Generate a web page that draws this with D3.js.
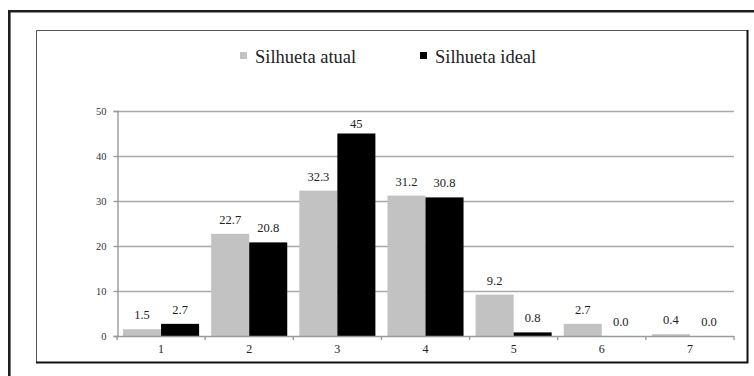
<!DOCTYPE html>
<html>
<head>
<meta charset="utf-8">
<script src="https://cdn.jsdelivr.net/npm/d3@7"></script>
<style>
  html, body { margin: 0; padding: 0; background: #fff; }
  svg { display: block; }
</style>
</head>
<body>
<script>
// Categories on the x axis (silhouette figure numbers)
const categories = ["1", "2", "3", "4", "5", "6", "7"];
// Series: percentage choosing each silhouette
const seriesNames = ["Silhueta atual", "Silhueta ideal"];
const atual = [1.5, 22.7, 32.3, 31.2, 9.2, 2.7, 0.4];
const ideal = [2.7, 20.8, 45, 30.8, 0.8, 0.0, 0.0];
// Printed value labels
const atualLabels = ["1.5", "22.7", "32.3", "31.2", "9.2", "2.7", "0.4"];
const idealLabels = ["2.7", "20.8", "45", "30.8", "0.8", "0.0", "0.0"];
// Y axis ticks
const yTicks = [0, 10, 20, 30, 40, 50];

const W = 754, H = 376;
const FONT = "'Liberation Serif', 'Times New Roman', 'DejaVu Serif', serif";
const colors = { "Silhueta atual": "#c2c2c2", "Silhueta ideal": "#000000" };

const svg = d3.select("body").append("svg")
  .attr("width", W).attr("height", H);

// Outer frame (extends past the window edge)
svg.append("path")
  .attr("d", "M9.3,380 V11.3 H760")
  .attr("fill", "none").attr("stroke", "#1e1e1e").attr("stroke-width", 2.6);

// Inner chart box: thin top/left, heavier right/bottom
svg.append("path")
  .attr("d", "M36.5,362 V30.5 H748")
  .attr("fill", "none").attr("stroke", "#555").attr("stroke-width", 1);
svg.append("path")
  .attr("d", "M747.5,30 V362.5 H36")
  .attr("fill", "none").attr("stroke", "#111").attr("stroke-width", 2);

const plot = { left: 117, right: 734, top: 111, bottom: 336 };

const x0 = d3.scaleBand()
  .domain(categories)
  .range([plot.left, plot.right])
  .paddingInner(0.137)
  .paddingOuter(0.0685);

const x1 = d3.scaleBand()
  .domain(seriesNames)
  .range([0, x0.bandwidth()])
  .padding(0);

const y = d3.scaleLinear()
  .domain([0, 50])
  .range([plot.bottom, plot.top]);

// Gridlines
svg.append("g")
  .selectAll("line")
  .data(yTicks.filter(t => t > 0))
  .join("line")
  .attr("x1", plot.left).attr("x2", plot.right)
  .attr("y1", d => Math.round(y(d)) + 0.5).attr("y2", d => Math.round(y(d)) + 0.5)
  .attr("stroke", "#a9a9a9").attr("stroke-width", 1.6);

// Y axis
const yAxis = d3.axisLeft(y)
  .tickValues(yTicks)
  .tickSize(4)
  .tickPadding(7)
  .tickFormat(d3.format("d"));
const gy = svg.append("g")
  .attr("transform", `translate(${plot.left + 0.5},0)`)
  .call(yAxis)
  .attr("font-family", FONT)
  .attr("font-size", 10.5);
gy.select(".domain").attr("stroke", "#9a9a9a").attr("stroke-width", 1.4);
gy.selectAll(".tick line").attr("stroke", "#9a9a9a").attr("stroke-width", 1.4);
gy.selectAll(".tick text").attr("fill", "#333");

// Bars
const rows = categories.map((c, i) => ({
  cat: c,
  vals: [
    { key: seriesNames[0], v: atual[i], label: atualLabels[i] },
    { key: seriesNames[1], v: ideal[i], label: idealLabels[i] }
  ]
}));

const groups = svg.append("g")
  .selectAll("g")
  .data(rows)
  .join("g")
  .attr("transform", d => `translate(${x0(d.cat)},0)`);

groups.selectAll("rect")
  .data(d => d.vals)
  .join("rect")
  .attr("x", d => x1(d.key))
  .attr("y", d => y(d.v))
  .attr("width", x1.bandwidth())
  .attr("height", d => y(0) - y(d.v))
  .attr("fill", d => colors[d.key]);

groups.selectAll("text.val")
  .data(d => d.vals)
  .join("text")
  .attr("class", "val")
  .attr("x", d => x1(d.key) + x1.bandwidth() / 2)
  .attr("y", d => Math.max(y(d.v) - 10, plot.top + 17))
  .attr("text-anchor", "middle")
  .attr("font-family", FONT)
  .attr("font-size", 12.5)
  .attr("fill", "#222")
  .text(d => d.label);

// X axis with ticks at category boundaries
const step = x0.step();
const boundaries = categories.map(c => x0(c) - x0.paddingInner() * step / 2)
  .concat([plot.right]);
const gx = svg.append("g");
gx.append("line")
  .attr("x1", plot.left).attr("x2", plot.right)
  .attr("y1", plot.bottom + 0.5).attr("y2", plot.bottom + 0.5)
  .attr("stroke", "#9a9a9a").attr("stroke-width", 1.4);
gx.selectAll("line.tk")
  .data(boundaries)
  .join("line")
  .attr("class", "tk")
  .attr("x1", d => d).attr("x2", d => d)
  .attr("y1", plot.bottom).attr("y2", plot.bottom + 4)
  .attr("stroke", "#9a9a9a").attr("stroke-width", 1.4);
gx.selectAll("text")
  .data(categories)
  .join("text")
  .attr("x", d => x0(d) + x0.bandwidth() / 2)
  .attr("y", plot.bottom + 17)
  .attr("text-anchor", "middle")
  .attr("font-family", FONT)
  .attr("font-size", 12)
  .attr("fill", "#222")
  .text(d => d);

// Legend
const legendPos = [{ x: 240, key: seriesNames[0] }, { x: 420, key: seriesNames[1] }];
const lg = svg.append("g").selectAll("g").data(legendPos).join("g")
  .attr("transform", d => `translate(${d.x},52)`);
lg.append("rect")
  .attr("width", 7).attr("height", 7)
  .attr("fill", d => colors[d.key]);
lg.append("text")
  .attr("x", 15).attr("y", 10.5)
  .attr("font-family", FONT)
  .attr("font-size", 18.5)
  .attr("fill", "#222")
  .text(d => d.key);
</script>
</body>
</html>
